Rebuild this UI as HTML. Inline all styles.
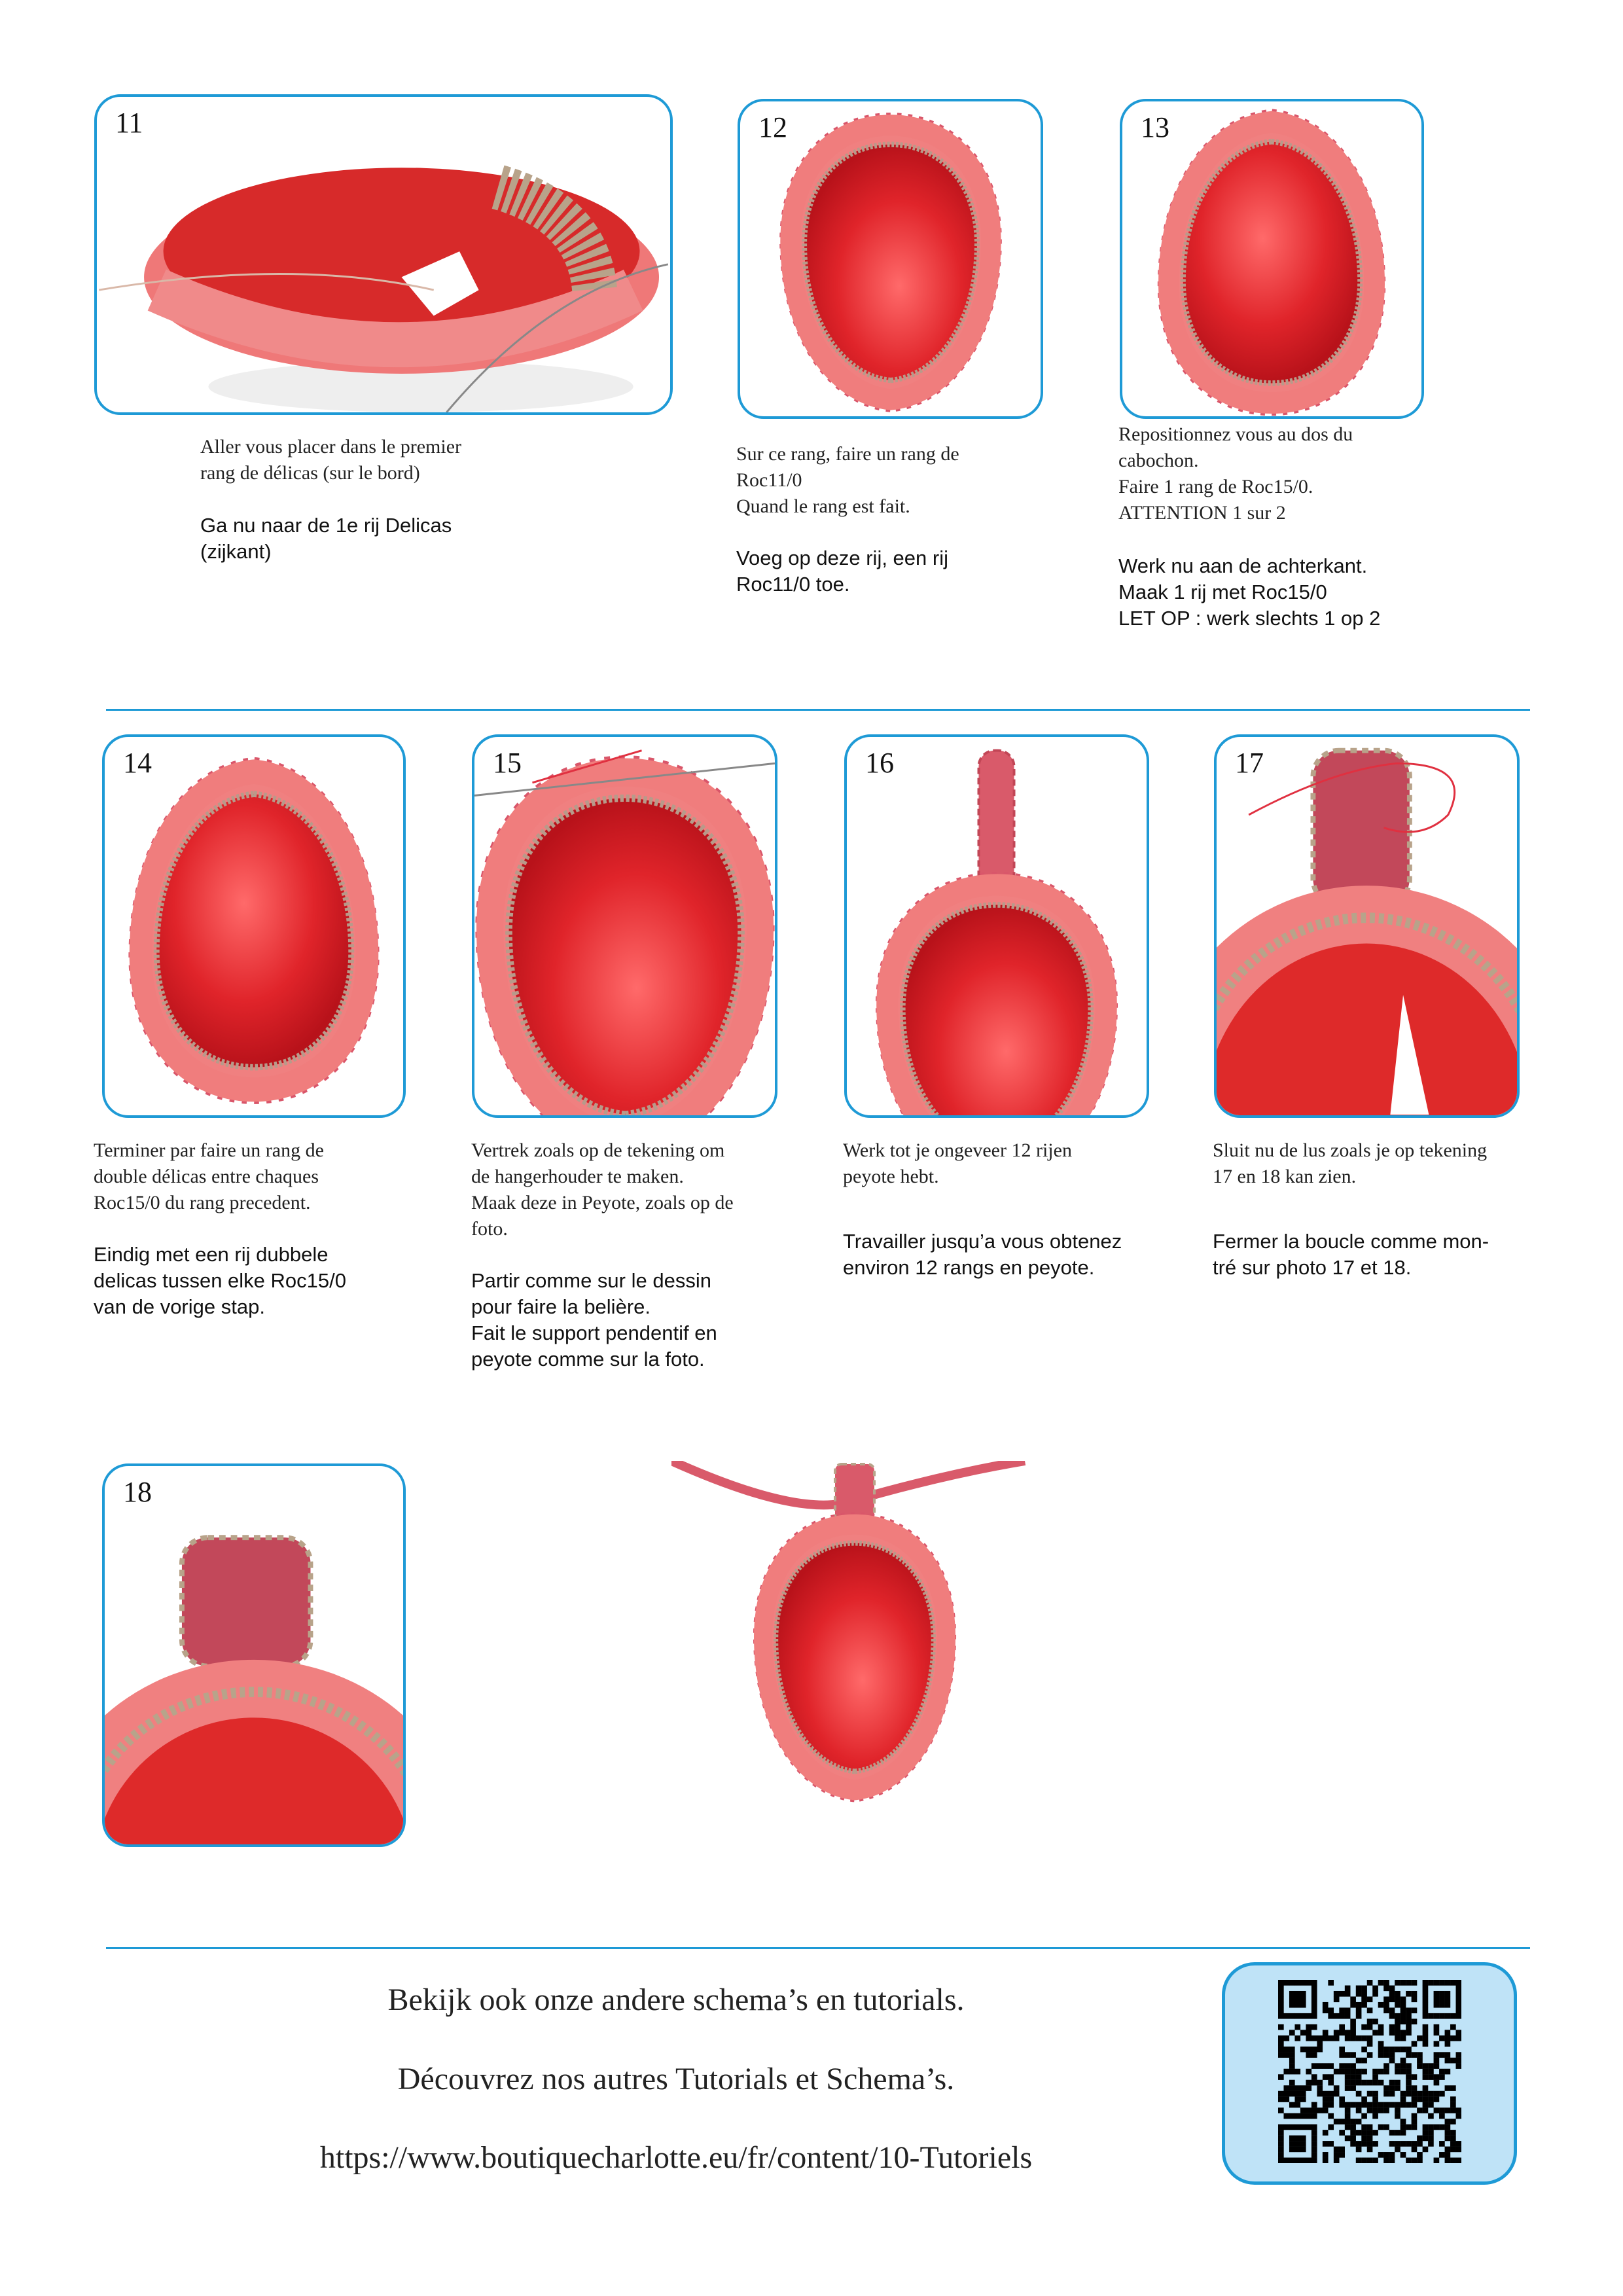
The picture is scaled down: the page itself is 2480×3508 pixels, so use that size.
<!DOCTYPE html>
<html><head><meta charset="utf-8"><style>
html,body{margin:0;padding:0;background:#fff}
body{width:2480px;height:3508px;position:relative;overflow:hidden;font-family:"Liberation Serif",serif}
.p{position:absolute;border:4px solid #1e9ad6;border-radius:40px;background:#fff;overflow:hidden;box-sizing:border-box}
.p svg{position:absolute;left:0;top:0;width:100%;height:100%}
.n{position:absolute;left:28px;top:14px;font-size:44px;color:#111;z-index:2;font-family:"Liberation Serif",serif}
.t{position:absolute;font-size:30px;line-height:40px;color:#222}
.s{font-family:"Liberation Sans",sans-serif;font-size:31px;line-height:40px;color:#111}
.hr{position:absolute;left:162px;width:2176px;height:3px;background:#1e9ad6}
.f{position:absolute;width:2066px;left:0;text-align:center;font-size:48px;color:#222}
</style></head><body>

<svg width="0" height="0" style="position:absolute">
<defs>
<radialGradient id="rg" cx="45%" cy="40%" r="60%"><stop offset="0" stop-color="#ff6a6a"/><stop offset="0.6" stop-color="#e0242a"/><stop offset="1" stop-color="#b8121a"/></radialGradient>
<g id="drop">
<path d="M0,-260 C110,-250 200,-130 200,40 C200,180 110,260 0,260 C-110,260 -200,180 -200,40 C-200,-130 -110,-250 0,-260Z" fill="none" stroke="#d9566a" stroke-width="26" stroke-dasharray="8 12" transform="scale(1.04)"/>
<path d="M0,-260 C110,-250 200,-130 200,40 C200,180 110,260 0,260 C-110,260 -200,180 -200,40 C-200,-130 -110,-250 0,-260Z" fill="#f08080" stroke="#f07d7d" stroke-width="40"/>
<path d="M0,-260 C110,-250 200,-130 200,40 C200,180 110,260 0,260 C-110,260 -200,180 -200,40 C-200,-130 -110,-250 0,-260Z" fill="url(#rg)" stroke="#b89a8a" stroke-width="12" stroke-dasharray="6 4" transform="scale(0.86)"/>
</g>
</defs></svg>

<!-- 11 -->
<div class="p" style="left:144px;top:144px;width:884px;height:490px"><div class="n">11</div>
<svg viewBox="0 0 884 490"><ellipse cx="500" cy="450" rx="330" ry="40" fill="#eee"/>
<ellipse cx="470" cy="280" rx="400" ry="150" fill="#ef7878"/>
<ellipse cx="470" cy="240" rx="370" ry="130" fill="#d72a2a"/>
<path d="M90,300 Q470,470 830,300" fill="none" stroke="#f08a8a" stroke-width="70"/>
<path d="M620,140 Q760,180 770,300" fill="none" stroke="#b8a38a" stroke-width="70" stroke-dasharray="10 6"/>
<polygon points="470,280 560,240 590,300 520,340" fill="#fff"/>
<path d="M0,300 Q300,250 520,300" stroke="#d9b8a8" stroke-width="3" fill="none"/>
<path d="M540,490 Q700,300 884,260" stroke="#888" stroke-width="3" fill="none"/></svg></div>

<!-- 12 -->
<div class="p" style="left:1127px;top:151px;width:467px;height:489px"><div class="n">12</div>
<svg viewBox="0 0 467 489"><use href="#drop" transform="translate(234,250) scale(0.78,0.82) rotate(180)"/></svg></div>

<!-- 13 -->
<div class="p" style="left:1711px;top:151px;width:465px;height:489px"><div class="n">13</div>
<svg viewBox="0 0 465 489"><use href="#drop" transform="translate(232,250) scale(0.8,0.84)"/></svg></div>

<div class="t" style="left:306px;top:663px">Aller vous placer dans le premier<br>rang de délicas (sur le bord)</div>
<div class="t s" style="left:306px;top:783px">Ga nu naar de 1e rij Delicas<br>(zijkant)</div>
<div class="t" style="left:1125px;top:674px">Sur ce rang, faire un rang de<br>Roc11/0<br>Quand le rang est fait.</div>
<div class="t s" style="left:1125px;top:833px">Voeg op deze rij, een rij<br>Roc11/0 toe.</div>
<div class="t" style="left:1709px;top:644px">Repositionnez vous au dos du<br>cabochon.<br>Faire 1 rang de Roc15/0.<br>ATTENTION 1 sur 2</div>
<div class="t s" style="left:1709px;top:845px">Werk nu aan de achterkant.<br>Maak 1 rij met Roc15/0<br>LET OP : werk slechts 1 op 2</div>

<div class="hr" style="top:1083px"></div>

<!-- 14 -->
<div class="p" style="left:156px;top:1122px;width:464px;height:586px"><div class="n">14</div>
<svg viewBox="0 0 464 586"><use href="#drop" transform="translate(232,300) scale(0.88,0.95)"/></svg></div>
<!-- 15 -->
<div class="p" style="left:721px;top:1122px;width:467px;height:586px"><div class="n">15</div>
<svg viewBox="0 0 467 586"><use href="#drop" transform="translate(234,340) scale(1.05,1.1) rotate(180)"/>
<path d="M0,90 L467,40" stroke="#888" stroke-width="3"/><path d="M90,70 L260,20" stroke="#e03040" stroke-width="3" fill="none"/></svg></div>
<!-- 16 -->
<div class="p" style="left:1290px;top:1122px;width:466px;height:586px"><div class="n">16</div>
<svg viewBox="0 0 466 586"><rect x="205" y="20" width="55" height="280" rx="25" fill="#d95a6a" stroke="#c24656" stroke-width="4" stroke-dasharray="10 6"/>
<use href="#drop" transform="translate(233,450) scale(0.85,0.85) rotate(180)"/></svg></div>
<!-- 17 -->
<div class="p" style="left:1855px;top:1122px;width:467px;height:586px"><div class="n">17</div>
<svg viewBox="0 0 467 586"><rect x="150" y="20" width="150" height="240" rx="40" fill="#c2485a" stroke="#b8a38a" stroke-width="8" stroke-dasharray="10 8"/>
<ellipse cx="233" cy="560" rx="330" ry="330" fill="#f08080"/><ellipse cx="233" cy="580" rx="280" ry="300" fill="none" stroke="#b8a38a" stroke-width="16" stroke-dasharray="8 6"/>
<ellipse cx="233" cy="600" rx="255" ry="280" fill="#de2a2a"/>
<polygon points="270,586 290,400 330,586" fill="#fff"/>
<path d="M50,120 Q180,50 280,40 Q400,40 360,120 Q320,160 260,140" stroke="#e03040" stroke-width="3" fill="none"/></svg></div>

<div class="t" style="left:143px;top:1738px">Terminer par faire un rang de<br>double délicas entre chaques<br>Roc15/0 du rang precedent.</div>
<div class="t s" style="left:143px;top:1897px">Eindig met een rij dubbele<br>delicas tussen elke Roc15/0<br>van de vorige stap.</div>
<div class="t" style="left:720px;top:1738px">Vertrek zoals op de tekening om<br>de hangerhouder te maken.<br>Maak deze in Peyote, zoals op de<br>foto.</div>
<div class="t s" style="left:720px;top:1937px">Partir comme sur le dessin<br>pour faire la belière.<br>Fait le support pendentif en<br>peyote comme sur la foto.</div>
<div class="t" style="left:1288px;top:1738px">Werk tot je ongeveer 12 rijen<br>peyote hebt.</div>
<div class="t s" style="left:1288px;top:1877px">Travailler jusqu’a vous obtenez<br>environ 12 rangs en peyote.</div>
<div class="t" style="left:1853px;top:1738px">Sluit nu de lus zoals je op tekening<br>17 en 18 kan zien.</div>
<div class="t s" style="left:1853px;top:1877px">Fermer la boucle comme mon-<br>tré sur photo 17 et 18.</div>

<!-- 18 -->
<div class="p" style="left:156px;top:2236px;width:464px;height:586px"><div class="n">18</div>
<svg viewBox="0 0 464 586"><rect x="120" y="110" width="200" height="200" rx="40" fill="#c2485a" stroke="#b8a38a" stroke-width="8" stroke-dasharray="10 8"/>
<ellipse cx="232" cy="600" rx="330" ry="300" fill="#f08080"/><ellipse cx="232" cy="620" rx="280" ry="270" fill="none" stroke="#b8a38a" stroke-width="16" stroke-dasharray="8 6"/>
<ellipse cx="232" cy="640" rx="250" ry="250" fill="#de2a2a"/></svg></div>

<!-- final pendant -->
<svg style="position:absolute;left:1026px;top:2232px" width="560" height="540" viewBox="0 0 560 540">
<path d="M0,0 Q200,90 280,60 Q420,20 540,0" stroke="#d95a6a" stroke-width="14" fill="none"/>
<rect x="250" y="5" width="60" height="120" rx="10" fill="#d95a6a" stroke="#b8a38a" stroke-width="4" stroke-dasharray="8 6"/>
<use href="#drop" transform="translate(280,300) scale(0.7,0.78) rotate(180)"/></svg>

<div class="hr" style="top:2975px"></div>
<div class="f" style="top:3028px">Bekijk ook onze andere schema’s en tutorials.</div>
<div class="f" style="top:3149px">Découvrez nos autres Tutorials et Schema’s.</div>
<div class="f" style="top:3269px">https://www.boutiquecharlotte.eu/fr/content/10-Tutoriels</div>

<div style="position:absolute;left:1867px;top:2998px;width:451px;height:340px;box-sizing:border-box;border:5px solid #1e9ad6;border-radius:50px;background:#bfe3f7"></div>
<svg id="qr" style="position:absolute;left:1953px;top:3025px" width="280" height="280" viewBox="0 0 33 33"></svg>
<script>
(function(){var s=document.getElementById('qr'),h='',seed=7;
function r(){seed=(seed*1103515245+12345)&0x7fffffff;return seed/0x7fffffff;}
function f(x,y){return (x<8&&y<8)||(x>24&&y<8)||(x<8&&y>24);}
for(var y=0;y<33;y++)for(var x=0;x<33;x++){var on;
if(f(x,y)){var cx=x>24?x-26:x,cy=y>24?y-26:y;if(cx<0||cy<0||cx>6||cy>6)on=false;else on=(cx==0||cx==6||cy==0||cy==6)||(cx>=2&&cx<=4&&cy>=2&&cy<=4);}
else on=r()<0.5;
if(on)h+='<rect x="'+x+'" y="'+y+'" width="1.02" height="1.02" fill="#000"/>';}
s.innerHTML=h;})();
</script>
</body></html>
